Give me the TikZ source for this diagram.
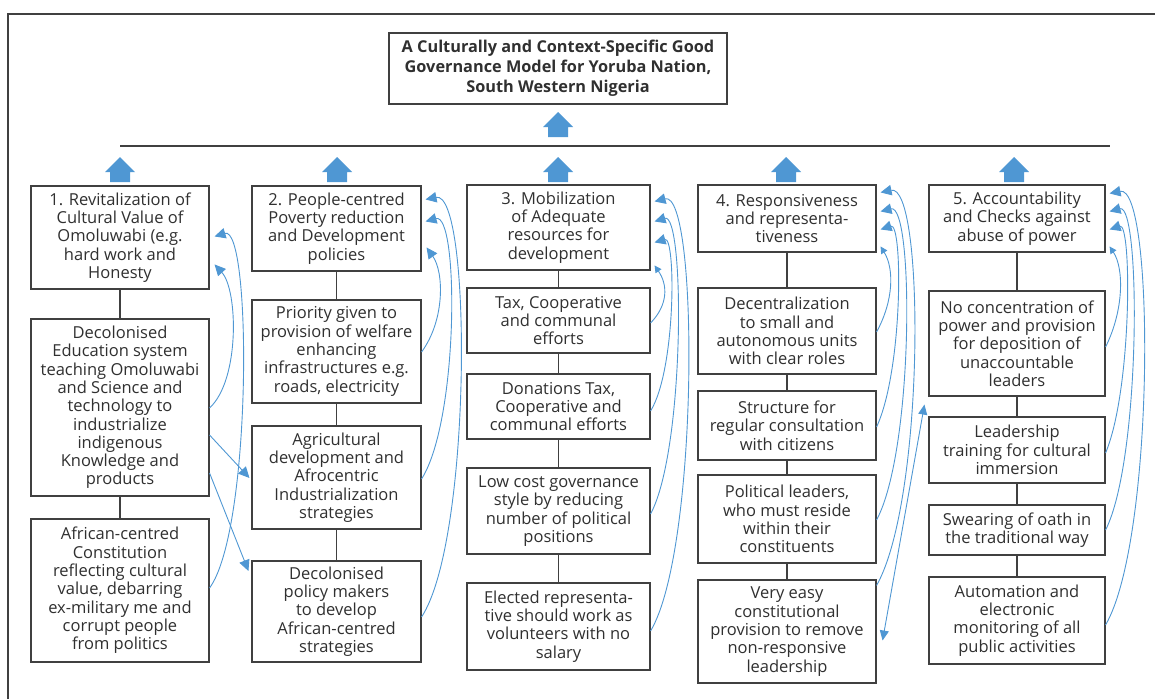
\documentclass[tikz,border=0pt]{standalone}
\usepackage{fontspec}
\setmainfont{Open Sans}
\usetikzlibrary{arrows.meta,calc}
\definecolor{txt}{HTML}{303030}
\definecolor{edge}{HTML}{404040}
\definecolor{blu}{HTML}{4F97D3}
\begin{document}
\begin{tikzpicture}[x=1pt,y=-1pt,
  box/.style={draw=edge, line width=1.1pt, fill=white, text=txt, align=center, inner sep=1pt,
    font=\fontsize{16.5}{18.3}\selectfont},
  conn/.style={draw=edge, line width=1.1pt},
  curv/.style={blu, line width=0.9pt, -{Triangle[length=11pt,width=10.5pt]}},
  curvs/.style={blu, line width=0.9pt, -{Triangle[length=7pt,width=7pt]}},
  curvd/.style={blu, line width=0.9pt, {Triangle[length=10pt,width=9pt]}-{Triangle[length=10pt,width=9pt]}},
  barrow/.pic={\fill[blu] (-10,0) -- (-10,-10) -- (-15,-10) -- (0,-25) -- (15,-10) -- (10,-10) -- (10,0) -- cycle;}
]
\useasboundingbox (0,0) rectangle (1155,699);
% frame
\draw[edge, line width=1.2pt] (8,699) -- (8,14) -- (1155,14);
% title
\node[box, font=\bfseries\fontsize{16.3}{20}\selectfont, minimum width=338pt, minimum height=71pt] (title) at (558,68.5)
  {A Culturally and Context-Specific Good\\Governance Model for Yoruba Nation,\\South Western Nigeria};
\pic at (558,137) {barrow};
\draw[conn] (120,146) coordinate (hl) -- (1110,146) coordinate (hr);
\foreach \cx in {120,337,558,786,1014} { \pic at (\cx,182) {barrow}; }

% column 1
\node[box, minimum width=178pt, minimum height=103pt] (c1a) at (120,237.5)
  {1. Revitalization of\\Cultural Value of\\Omoluwabi (e.g.\\hard work and\\Honesty};
\node[box, minimum width=178pt, minimum height=177pt] (c1b) at (120,407.5)
  {Decolonised\\Education system\\teaching Omoluwabi\\and Science and\\technology to\\industrialize\\indigenous\\Knowledge and\\products};
\node[box, minimum width=178pt, minimum height=143pt] (c1c) at (120,590.5)
  {African-centred\\Constitution\\reflecting cultural\\value, debarring\\ex-military me and\\corrupt people\\from politics};
% column 2
\node[box, minimum width=169pt, minimum height=85pt] (c2a) at (336.5,228.5)
  {2. People-centred\\Poverty reduction\\and Development\\policies};
\node[box, minimum width=169pt, minimum height=103pt] (c2b) at (336.5,351.5)
  {Priority given to\\provision of welfare\\enhancing\\infrastructures e.g.\\roads, electricity};
\node[box, minimum width=169pt, minimum height=103pt] (c2c) at (336.5,477.5)
  {Agricultural\\development and\\Afrocentric\\Industrialization\\strategies};
\node[box, minimum width=169pt, minimum height=101pt] (c2d) at (336.5,611.5)
  {Decolonised\\policy makers\\to develop\\African-centred\\strategies};
% column 3
\node[box, minimum width=183pt, minimum height=85pt] (c3a) at (558.5,227.5)
  {3. Mobilization\\of Adequate\\resources for\\development};
\node[box, minimum width=183pt, minimum height=65pt] (c3b) at (558.5,320.5)
  {Tax, Cooperative\\and communal\\efforts};
\node[box, minimum width=183pt, minimum height=65pt] (c3c) at (558.5,406.5)
  {Donations Tax,\\Cooperative and\\communal efforts};
\node[box, minimum width=183pt, minimum height=86pt] (c3d) at (558.5,511)
  {Low cost governance\\style by reducing\\number of political\\positions};
\node[box, minimum width=183pt, minimum height=87pt] (c3e) at (558.5,626.5)
  {Elected representa-\\tive should work as\\volunteers with no\\salary};
% column 4
\node[box, minimum width=178pt, minimum height=67pt] (c4a) at (787,218.5)
  {4. Responsiveness\\and representa-\\tiveness};
\node[box, minimum width=178pt, minimum height=86pt] (c4b) at (787,331)
  {Decentralization\\to small and\\autonomous units\\with clear roles};
\node[box, minimum width=178pt, minimum height=69pt] (c4c) at (787,425.5)
  {Structure for\\regular consultation\\with citizens};
\node[box, minimum width=178pt, minimum height=88pt] (c4d) at (787,519)
  {Political leaders,\\who must reside\\within their\\constituents};
\node[box, minimum width=178pt, minimum height=103pt] (c4e) at (787,631.5)
  {Very easy\\constitutional\\provision to remove\\non-responsive\\leadership};
% column 5
\node[box, minimum width=176pt, minimum height=67pt] (c5a) at (1017,218.5)
  {5. Accountability\\and Checks against\\abuse of power};
\node[box, minimum width=176pt, minimum height=105pt] (c5b) at (1017,343.5)
  {No concentration of\\power and provision\\for deposition of\\unaccountable\\leaders};
\node[box, minimum width=176pt, minimum height=66pt] (c5c) at (1017,450)
  {Leadership\\training for cultural\\immersion};
\node[box, minimum width=176pt, minimum height=50pt] (c5d) at (1017,530)
  {Swearing of oath in\\the traditional way};
\node[box, minimum width=176pt, minimum height=87pt] (c5e) at (1017,620.5)
  {Automation and\\electronic\\monitoring of all\\public activities};

% vertical connectors
\draw[conn] (c1a) -- (c1b); \draw[conn] (c1b) -- (c1c);
\draw[conn] (c2a) -- (c2b); \draw[conn] (c2b) -- (c2c); \draw[conn] (c2c) -- (c2d);
\draw[conn] (c3a) -- (c3b); \draw[conn] (c3b) -- (c3c); \draw[conn] (c3c) -- (c3d); \draw[conn] (c3d) -- (c3e);
\draw[conn] (c4a) -- (c4b); \draw[conn] (c4b) -- (c4c); \draw[conn] (c4c) -- (c4d); \draw[conn] (c4d) -- (c4e);
\draw[conn] (c5a) -- (c5b); \draw[conn] (c5b) -- (c5c); \draw[conn] (c5c) -- (c5d); \draw[conn] (c5d) -- (c5e);

% column 1 arrows
\draw[curv] ($(c1b.east)+(0,0.5)$) .. controls (240,380) and (238,290) .. ($(c1a.north east)+(5,79)$);
\draw[curv] ($(c1c.east)+(0,-2.5)$) .. controls (252,530) and (252,225) .. ($(c1a.north east)+(5,51)$);
\draw[curv] ($(c1b.east)+(0,27.5)$) -- ($(c2c.west)+(-2,0.5)$);
\draw[curv] ($(c1b.east)+(0,65.5)$) -- ($(c2d.west)+(-3,-40.5)$);
% column 2 arrows
\draw[curv] ($(c2b.east)+(0,0.5)$) .. controls (445,320) and (444,272) .. ($(c2a.north east)+(5,62)$);
\draw[curv] ($(c2c.east)+(0,1.5)$) .. controls (459,420) and (459,212) .. ($(c2a.north east)+(4,36)$);
\draw[curv] ($(c2d.east)+(0,5.5)$) .. controls (472,540) and (472,190) .. ($(c2a.north east)+(4,14)$);
% column 3 arrows
\draw[curvs] ($(c3b.east)+(0,2.5)$) .. controls (668,305) and (668,285) .. ($(c3a.north east)+(4,81)$);
\draw[curv] ($(c3c.east)+(0,4.5)$) .. controls (676,370) and (676,236) .. ($(c3a.north east)+(4,58)$);
\draw[curv] ($(c3d.east)+(0,3)$) .. controls (685,450) and (685,212) .. ($(c3a.north east)+(4,37)$);
\draw[curv] ($(c3e.east)+(0,4.5)$) .. controls (699,550) and (699,190) .. ($(c3a.north east)+(4,17)$);
% column 4 arrows
\draw[curvs] ($(c4b.east)+(0,1)$) .. controls (894,300) and (894,268) .. ($(c4a.north east)+(4,62)$);
\draw[curv] ($(c4c.east)+(0,1.5)$) .. controls (903,370) and (903,222) .. ($(c4a.north east)+(4,45)$);
\draw[curv] ($(c4d.east)+(0,1)$) .. controls (914,450) and (914,203) .. ($(c4a.north east)+(4,27)$);
\draw[curv] ($(c4e.north east)+(0,6)$) .. controls (925,500) and (925,183) .. ($(c4a.north east)+(4,8)$);
\draw[curvd] ($(c4e.east)+(6,9)$) -- ($(c5b.south west)+(-4,8)$);
% column 5 arrows
\draw[curvs] ($(c5b.east)+(0,3.5)$) .. controls (1124,310) and (1124,268) .. ($(c5a.north east)+(4,62)$);
\draw[curv] ($(c5c.east)+(0,3)$) .. controls (1132,390) and (1132,222) .. ($(c5a.north east)+(4,45)$);
\draw[curv] ($(c5d.east)+(0,0)$) .. controls (1141,460) and (1141,203) .. ($(c5a.north east)+(4,27)$);
\draw[curv] ($(c5e.east)+(0,4.5)$) .. controls (1155,540) and (1155,184) .. ($(c5a.north east)+(4,9)$);
\end{tikzpicture}
\end{document}
